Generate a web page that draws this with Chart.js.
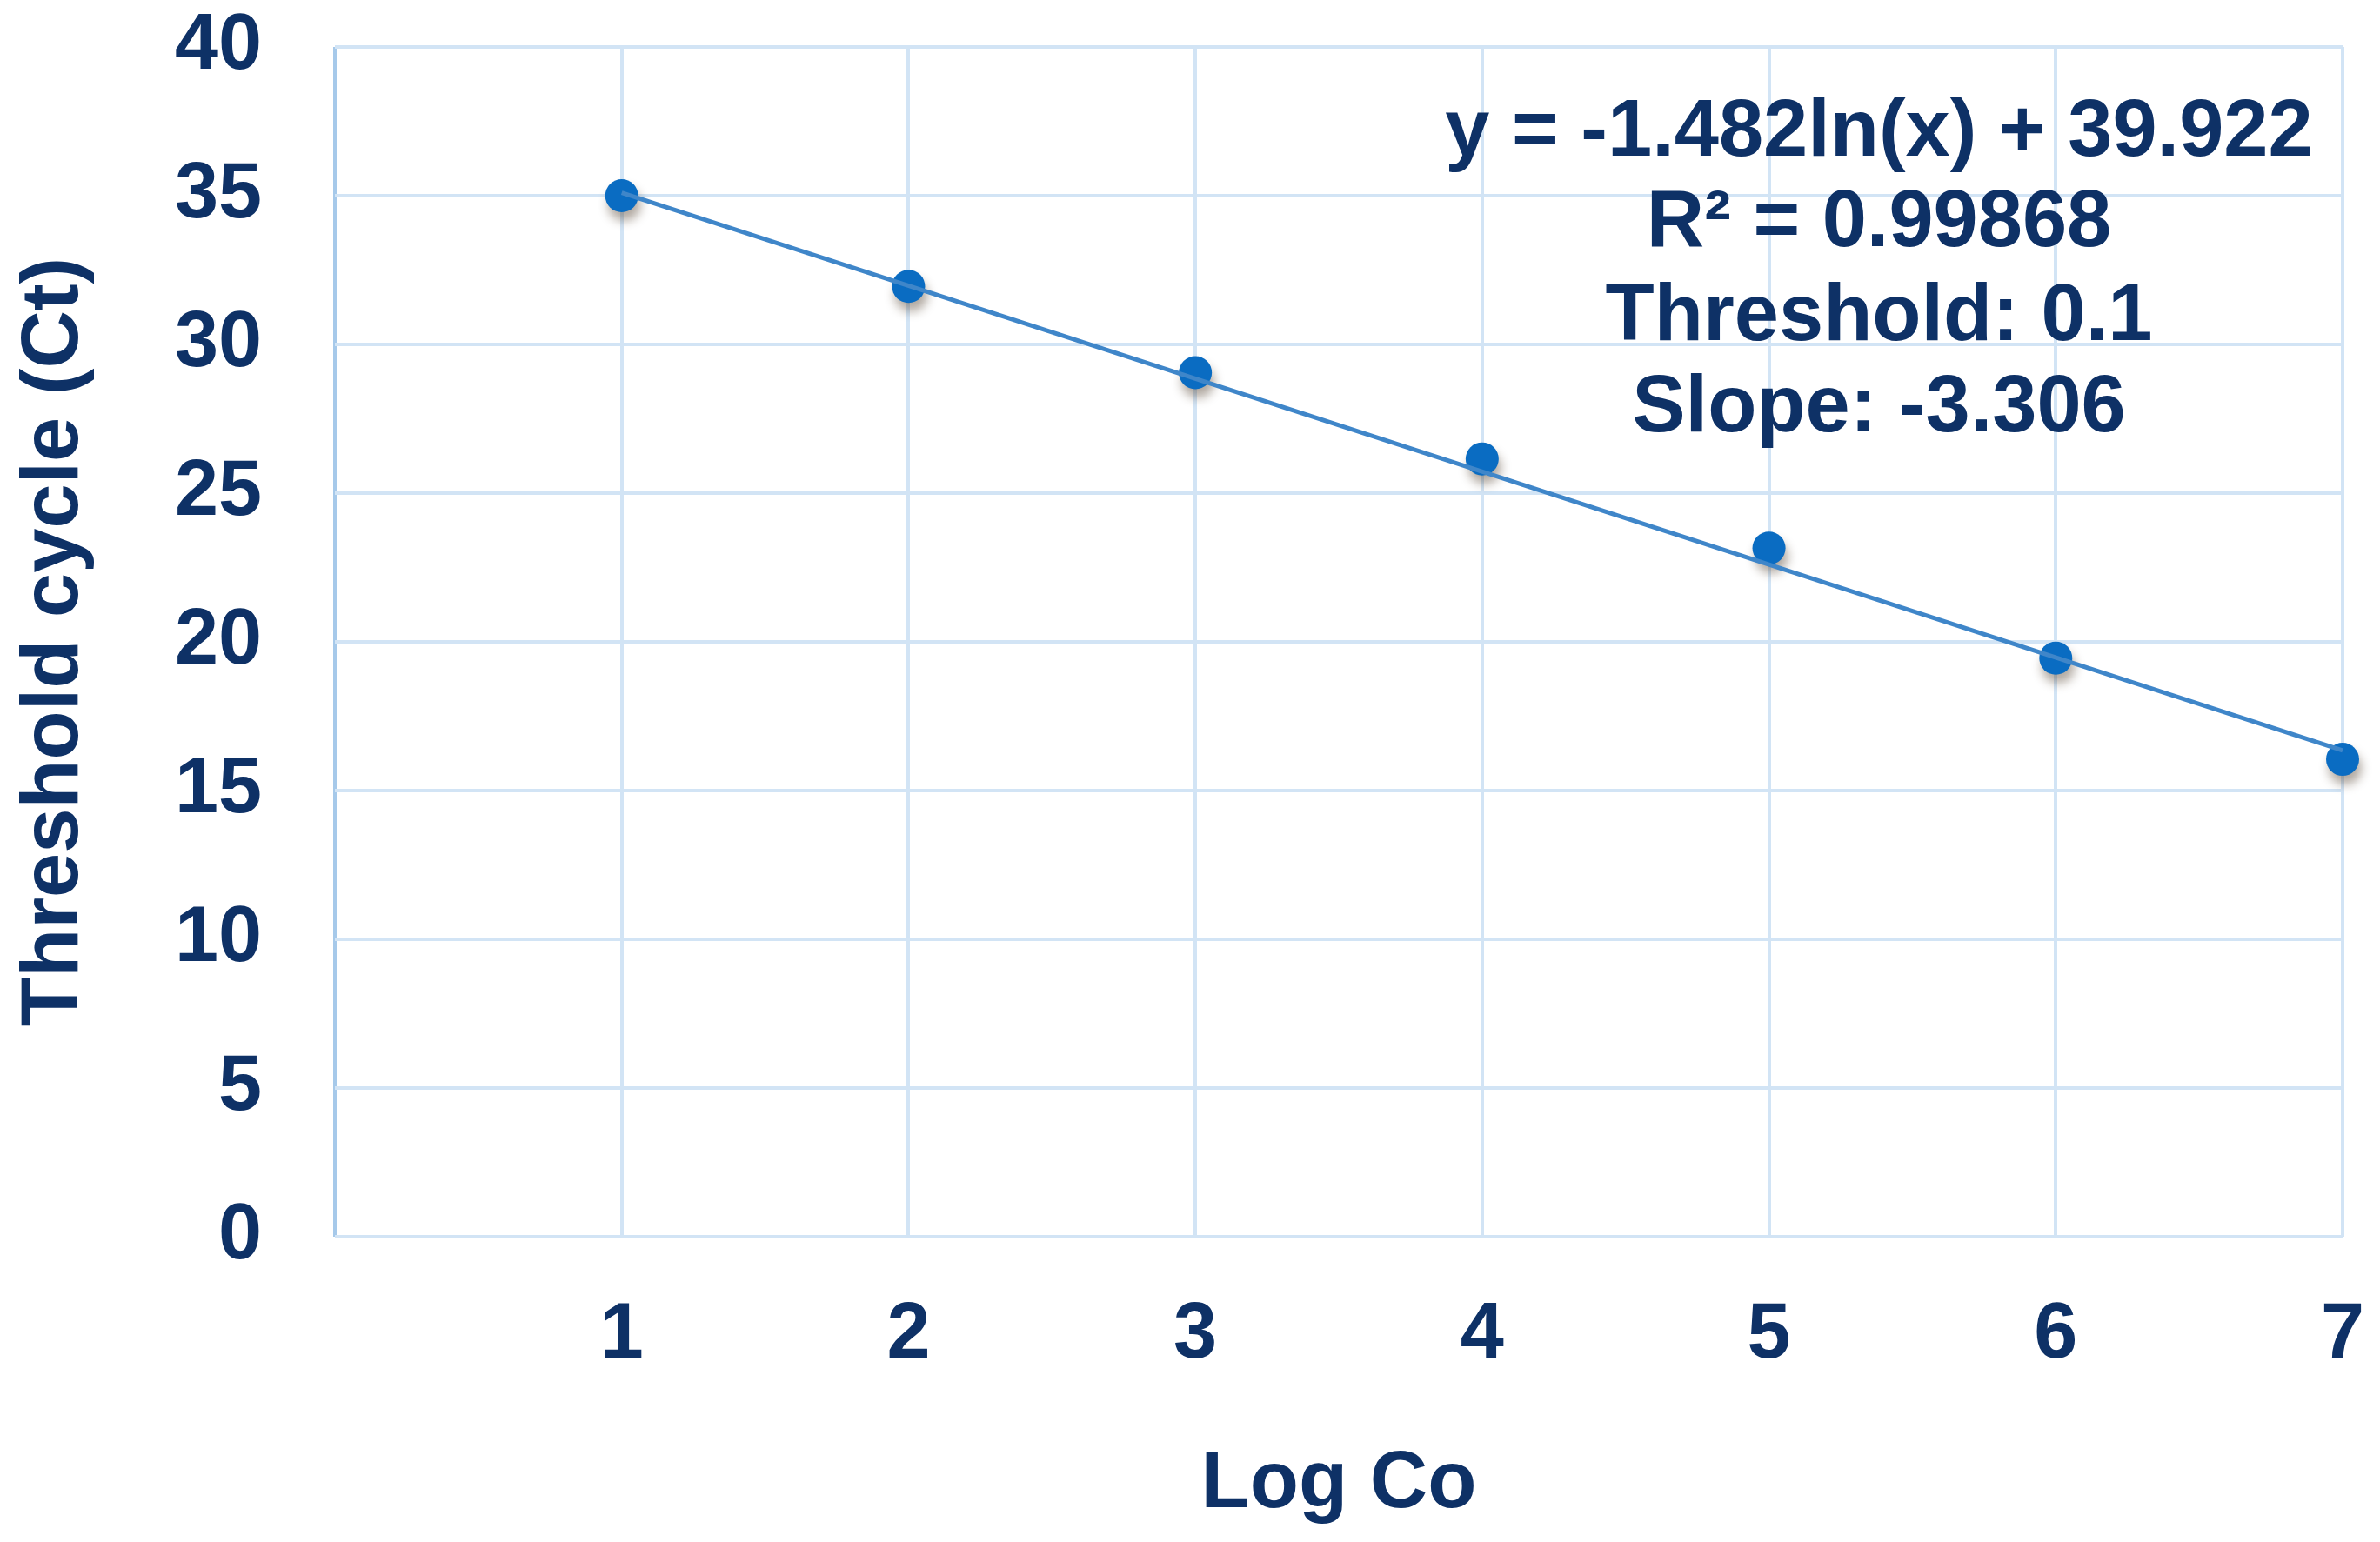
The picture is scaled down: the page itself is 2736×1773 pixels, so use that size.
<!DOCTYPE html>
<html>
<head>
<meta charset="utf-8">
<script src="https://cdn.jsdelivr.net/npm/chart.js@4.4.0/dist/chart.umd.min.js"></script>
<style>
	html, body { margin: 0; padding: 0; background: #ffffff; }
	canvas { display: block; }
</style>
</head>
<body>
<canvas id="myChart" width="2736" height="1773"></canvas>
<script>
// data
var logCo = [1, 2, 3, 4, 5, 6, 7];
var ctValues = [35.0, 31.95, 29.05, 26.15, 23.15, 19.45, 16.05];
var trendX = [1, 7];
var trendY = [35.1, 16.35];
var noteLines = ['y = -1.482ln(x) + 39.922', 'R\u00b2 = 0.99868', 'Threshold: 0.1', 'Slope: -3.306'];
var xTitle = 'Log Co';
var yTitle = 'Threshold cycle (Ct)';

var textColor = '#0e3166';
var gridColor = '#d2e4f5';
var fontName = '"Liberation Sans", Arial, sans-serif';

function toPoints(xs, ys) {
	var pts = [];
	for (var i in xs) {
		pts.push({x: xs[i], y: ys[i]});
	}
	return pts;
}

// drop shadow under the markers
var shadowPlugin = {
	id: 'markerShadow',
	beforeDatasetDraw: function(chart, args) {
		if (args.index === 1) {
			var ctx = chart.ctx;
			ctx.save();
			ctx.shadowColor = 'rgba(60,40,20,0.4)';
			ctx.shadowBlur = 12;
			ctx.shadowOffsetX = 3;
			ctx.shadowOffsetY = 10;
		}
	},
	afterDatasetDraw: function(chart, args) {
		if (args.index === 1) {
			chart.ctx.restore();
		}
	}
};

var notePlugin = {
	id: 'trendNote',
	afterDraw: function(chart) {
		var ctx = chart.ctx;
		var cx = 2160;
		var ys = [154, 258, 366, 471];
		ctx.save();
		ctx.fillStyle = textColor;
		ctx.font = 'bold 92px ' + fontName;
		ctx.textAlign = 'center';
		ctx.textBaseline = 'middle';
		for (var i = 0; i < noteLines.length; i++) {
			ctx.fillText(noteLines[i], cx, ys[i]);
		}
		ctx.restore();
	}
};

var config = {
	type: 'scatter',
	data: {
		datasets: [{
			label: 'trend',
			data: toPoints(trendX, trendY),
			showLine: true,
			borderColor: '#3f86c9',
			borderWidth: 5,
			pointRadius: 0,
			clip: false
		}, {
			label: 'Ct',
			data: toPoints(logCo, ctValues),
			showLine: false,
			backgroundColor: '#0a6cc2',
			borderColor: '#0a6cc2',
			borderWidth: 0,
			pointRadius: 19,
			clip: false
		}]
	},
	options: {
		responsive: false,
		animation: false,
		devicePixelRatio: 1,
		layout: {
			padding: {left: 0, top: 54, right: 43, bottom: 0}
		},
		plugins: {
			legend: {display: false},
			tooltip: {enabled: false}
		},
		scales: {
			x: {
				type: 'linear',
				min: 0,
				max: 7,
				afterFit: function(scale) {
					scale.height = 351;
					scale.paddingLeft = 0;
					scale.paddingRight = 0;
				},
				border: {display: false},
				grid: {
					color: function(c) { return c.tick && c.tick.value === 0 ? '#a6c9ea' : gridColor; },
					lineWidth: 4,
					drawTicks: false
				},
				ticks: {
					stepSize: 1,
					padding: 60,
					color: textColor,
					font: {family: fontName, size: 90, weight: 'bold'},
					callback: function(v) { return v === 0 ? '' : v; }
				},
				title: {
					display: true,
					text: xTitle,
					color: textColor,
					font: {family: fontName, size: 92, weight: 'bold'},
					padding: {top: 0, bottom: 10}
				}
			},
			y: {
				min: 0,
				max: 40,
				afterFit: function(scale) {
					scale.width = 385;
					scale.paddingTop = 0;
					scale.paddingBottom = 0;
				},
				border: {display: false},
				grid: {
					color: gridColor,
					lineWidth: 4,
					drawTicks: false
				},
				ticks: {
					stepSize: 5,
					padding: 84,
					color: textColor,
					font: {family: fontName, size: 90, weight: 'bold'}
				},
				title: {
					display: true,
					text: yTitle,
					color: textColor,
					font: {family: fontName, size: 92, weight: 'bold'},
					padding: {top: 8, bottom: 0}
				}
			}
		}
	},
	plugins: [shadowPlugin, notePlugin]
};

var ctx = document.getElementById('myChart').getContext('2d');
window.myLine = new Chart(ctx, config);
</script>
</body>
</html>
